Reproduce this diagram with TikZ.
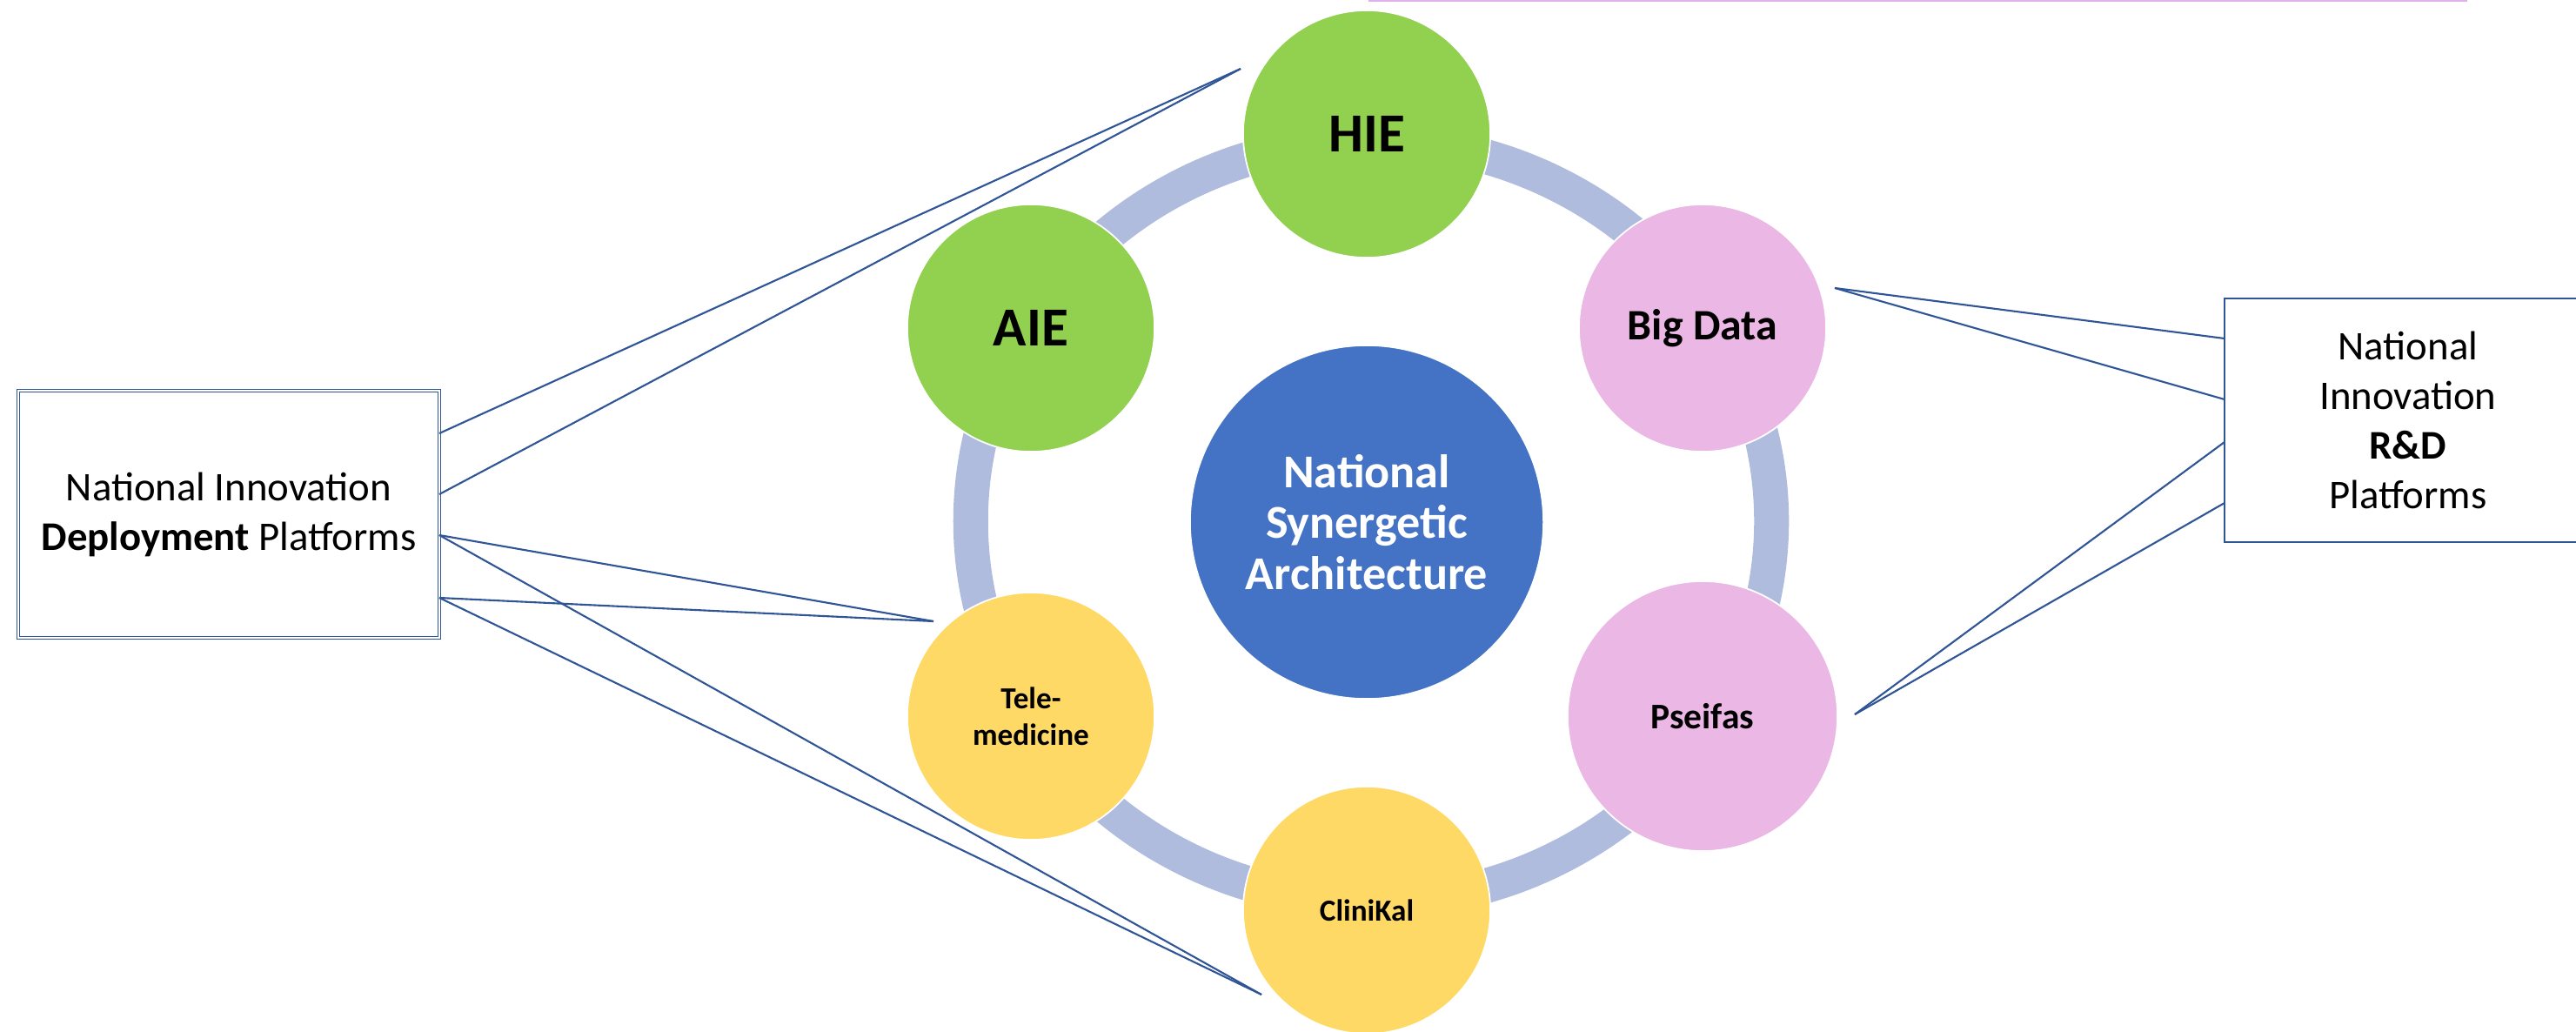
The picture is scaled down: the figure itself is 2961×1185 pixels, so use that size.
\documentclass[tikz,border=0pt]{standalone}
\usepackage{fontspec}
\setmainfont{Carlito}
\usetikzlibrary{positioning}

\definecolor{ringblue}{HTML}{AFBCDE}
\definecolor{linkblue}{HTML}{2F5597}
\definecolor{coreblue}{HTML}{4472C4}
\definecolor{leafgreen}{HTML}{92D050}
\definecolor{rosepink}{HTML}{EBB7E4}
\definecolor{sunyellow}{HTML}{FFD966}
\definecolor{lilac}{HTML}{E0B0EA}

\begin{document}
\begin{tikzpicture}[x=0.01cm,y=-0.01cm,
    bubble/.style={circle,draw=white,line width=0.5pt,minimum size=2.84cm,inner sep=0pt,align=center,font=\bfseries},
    platform/.style={draw=linkblue,fill=white,line width=0.6pt,align=center,inner sep=0pt,
      font=\fontsize{13.3}{16.2}\selectfont},
    link/.style={draw=linkblue,line width=0.6pt}]
  \useasboundingbox (0,0) rectangle (2961,1185);
  \clip (0,0) rectangle (2961,1185);
  \draw[lilac,line width=0.6pt] (1573,1) -- (2836,1);
  % ring under the six bubbles
  \draw[ringblue,line width=0.4cm] (1576,599) ellipse[x radius=4.6cm,y radius=4.37cm];
  \node[bubble,fill=coreblue,text=white,minimum size=4.06cm,font=\bfseries\fontsize{15.4}{16.6}\selectfont] (core) at (1571,600) {National\\Synergetic\\Architecture};
  \node[bubble,fill=leafgreen,font=\bfseries\fontsize{18}{20}\selectfont] (hie) at (1571,154) {HIE};
  \node[bubble,fill=leafgreen,font=\bfseries\fontsize{18}{20}\selectfont] (aie) at (1185,377) {AIE};
  \node[bubble,fill=rosepink,font=\bfseries\fontsize{14.2}{16}\selectfont] (bigdata) at (1957,377) {Big Data};
  \node[bubble,fill=rosepink,minimum size=3.1cm,font=\bfseries\fontsize{11.8}{14}\selectfont] (pseifas) at (1957,823) {Pseifas};
  \node[bubble,fill=sunyellow,font=\bfseries\fontsize{10}{11.9}\selectfont] (tele) at (1185,823) {Tele-\\medicine};
  \node[bubble,fill=sunyellow,font=\bfseries\fontsize{10}{12}\selectfont] (clinikal) at (1571,1046) {CliniKal};

  \node[platform,double=white,double distance=0.5pt,line width=0.4pt,minimum width=4.84cm,minimum height=2.84cm] (deploy) at (263,591)
    {National Innovation\\\textbf{Deployment} Platforms};
  \node[platform,minimum width=4.22cm,minimum height=2.8cm] (rnd) at (2768,483)
    {National\\Innovation\\\textbf{R\&D}\\Platforms};

  % loose ends of the links
  \coordinate (hieEnd) at (1426,79);
  \coordinate (teleEnd) at (1073,714);
  \coordinate (cliniEnd) at (1450,1143);
  \coordinate (bigEnd) at (2109,331);
  \coordinate (pseEnd) at (2132,821);
  \foreach \n/\y in {d1/498,d2/568,d3/615,d4/687}{\coordinate (\n) at (505,\y);}
  \foreach \n/\y in {r1/389,r2/459,r3/508,r4/578}{\coordinate (\n) at (2557,\y);}

  \foreach \a/\b in {d1/hieEnd,d2/hieEnd,d3/teleEnd,d3/cliniEnd,d4/teleEnd,d4/cliniEnd,
                     bigEnd/r1,bigEnd/r2,pseEnd/r3,pseEnd/r4}{\draw[link] (\a) -- (\b);}
\end{tikzpicture}
\end{document}
